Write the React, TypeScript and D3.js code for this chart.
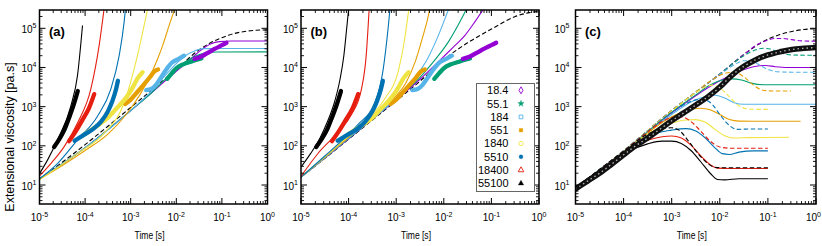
import React from "react";
import * as d3 from "d3";

// All series points are [log10(time / s), log10(extensional viscosity / Pa.s)]
type P = [number, number];

const PURPLE = "#9400D3";
const GREEN = "#009E73";
const LBLUE = "#56B4E9";
const ORANGE = "#E69F00";
const YELLOW = "#F0E442";
const BLUE = "#0072B2";
const RED = "#E51E10";
const BLACK = "#000000";

const xTickExps = [-5, -4, -3, -2, -1, 0];
const yTickExps = [1, 2, 3, 4, 5];
const legendLabels = ["18.4", "55.1", "184", "551", "1840", "5510", "18400", "55100"];
const legendColors = [PURPLE, GREEN, LBLUE, ORANGE, YELLOW, BLUE, RED, BLACK];
const legendShapes = ["diamondOpen", "starFilled", "squareOpen", "squareFilled", "circleOpen", "circleFilled", "triangleOpen", "triangleFilled"];

// ---- experimental data (panels a and b) ----
const expBlack: P[] = [[-4.68, 1.97], [-4.55, 2.2], [-4.45, 2.42], [-4.35, 2.72], [-4.25, 3.05], [-4.16, 3.4]];
const expRed: P[] = [[-4.35, 2.12], [-4.2, 2.38], [-4.05, 2.68], [-3.92, 2.95], [-3.8, 3.32]];
const expBlue: P[] = [[-4.23, 2.13], [-4.0, 2.3], [-3.8, 2.45], [-3.65, 2.62], [-3.5, 2.88], [-3.4, 3.15], [-3.32, 3.45], [-3.28, 3.66]];
const expYellow: P[] = [[-4.0, 2.3], [-3.75, 2.5], [-3.5, 2.72], [-3.3, 2.97], [-3.1, 3.23], [-2.95, 3.5], [-2.85, 3.72], [-2.74, 3.88]];
const expOrange: P[] = [[-3.12, 3.07], [-3.0, 3.18], [-2.85, 3.38], [-2.7, 3.58], [-2.58, 3.75], [-2.48, 3.9], [-2.4, 3.95]];
const expLBlue: P[] = [[-2.66, 3.42], [-2.55, 3.45], [-2.45, 3.55], [-2.35, 3.72], [-2.22, 3.95], [-2.1, 4.12], [-1.95, 4.22], [-1.83, 4.3]];
const expGreen: P[] = [[-2.2, 3.71], [-2.1, 3.85], [-2.0, 3.98], [-1.85, 4.08], [-1.7, 4.14], [-1.55, 4.2], [-1.45, 4.23]];
const expPurple: P[] = [[-1.6, 4.22], [-1.45, 4.28], [-1.3, 4.38], [-1.15, 4.48], [-1.0, 4.57], [-0.9, 4.63]];

// ---- panel (a) model curves ----
const aBlack: P[] = [[-5, 1.29], [-4.825, 1.635], [-4.605, 2.153], [-4.313, 3.016], [-4.167, 3.793], [-4.057, 5.07]];
const aRed: P[] = [[-5, 1.23], [-4.752, 1.547], [-4.458, 1.98], [-4.167, 2.583], [-3.875, 3.448], [-3.691, 4.57], [-3.581, 5.52]];
const aBlue: P[] = [[-5, 1.16], [-4.605, 1.547], [-4.167, 2.153], [-3.728, 2.757], [-3.436, 3.448], [-3.252, 4.311], [-3.143, 5.17], [-3.107, 5.6]];
const aYellow: P[] = [[-5, 1.13], [-4.167, 1.806], [-3.581, 2.324], [-3.143, 3.101], [-2.851, 4.311], [-2.632, 5.48]];
const aOrange: P[] = [[-5, 1.15], [-4.5, 1.5], [-4, 1.88], [-3.5, 2.3], [-3.1, 2.8], [-2.8, 3.3], [-2.588, 3.749], [-2.4, 4.25], [-2.296, 4.57], [-2.15, 5.1], [-2.0, 5.6]];
const aLBlue: P[] = [[-5, 1.15], [-4, 1.95], [-3, 2.9], [-2.5, 3.45], [-2.2, 3.85], [-2, 4.1], [-1.8, 4.3], [-1.6, 4.42], [-1.4, 4.48], [-1.0, 4.485], [0, 4.485]];
const aGreen: P[] = [[-5, 1.15], [-4, 1.95], [-3, 2.9], [-2.5, 3.4], [-2.2, 3.75], [-2, 3.97], [-1.8, 4.15], [-1.6, 4.28], [-1.4, 4.36], [-1.1, 4.395], [0, 4.397]];
const aPurple: P[] = [[-5, 1.15], [-4, 1.95], [-3, 2.9], [-2.5, 3.4], [-2, 3.9], [-1.7, 4.2], [-1.45, 4.45], [-1.25, 4.6], [-1.05, 4.66], [-0.8, 4.674], [0, 4.674]];
const aLVE: P[] = [[-5, 1.15], [-4.5, 1.58], [-4, 2.03], [-3.5, 2.5], [-3, 2.98], [-2.5, 3.46], [-2, 3.95], [-1.5, 4.45], [-1.25, 4.63], [-1, 4.76], [-0.75, 4.86], [-0.5, 4.92], [-0.25, 4.95], [0, 4.96]];

// ---- panel (b) model curves ----
const bBlack: P[] = [[-5, 1.46], [-4.8, 1.8], [-4.6, 2.2], [-4.45, 2.6], [-4.3, 3.1], [-4.18, 3.7], [-4.1, 4.3], [-4.04, 5.0], [-3.99, 5.6]];
const bRed: P[] = [[-5, 1.22], [-4.64, 1.81], [-4.22, 2.35], [-3.94, 2.8], [-3.73, 3.45], [-3.63, 4.31], [-3.57, 5.45]];
const bBlue: P[] = [[-5, 1.2], [-4.5, 1.74], [-4, 2.3], [-3.8, 2.55], [-3.45, 3.1], [-3.28, 3.9], [-3.17, 5.0], [-3.13, 5.5]];
const bYellow: P[] = [[-5, 1.2], [-4.5, 1.72], [-4, 2.25], [-3.66, 2.62], [-3.24, 3.2], [-2.96, 3.89], [-2.82, 4.74], [-2.75, 5.35], [-2.72, 5.6]];
const bOrange: P[] = [[-5, 1.2], [-4, 2.22], [-3.5, 2.74], [-3.0, 3.28], [-2.8, 3.6], [-2.6, 4.15], [-2.45, 4.75], [-2.32, 5.35], [-2.28, 5.6]];
const bLBlue: P[] = [[-5, 1.2], [-4, 2.2], [-3, 3.22], [-2.6, 3.75], [-2.33, 4.25], [-2.12, 4.8], [-1.9, 5.48], [-1.86, 5.6]];
const bGreen: P[] = [[-5, 1.2], [-4, 2.19], [-3, 3.2], [-2.5, 3.75], [-2.25, 4.1], [-1.9, 4.66], [-1.62, 5.26], [-1.48, 5.6]];
const bPurple: P[] = [[-5, 1.2], [-4, 2.18], [-3, 3.18], [-2.5, 3.7], [-2, 4.28], [-1.8, 4.52], [-1.555, 4.82], [-1.345, 5.17], [-1.13, 5.56]];
const bLVE: P[] = [[-5, 1.2], [-4.5, 1.68], [-4, 2.17], [-3.5, 2.66], [-3, 3.15], [-2.5, 3.65], [-2, 4.2], [-1.5, 4.63], [-1, 4.98], [-0.5, 5.3], [-0.2, 5.4], [0, 5.43]];

// ---- panel (c) model curves (solid and dashed) and data ----
const cBlackSolid: P[] = [[-5, 0.93], [-4.5, 1.37], [-4, 1.8], [-3.5, 2.05], [-3.2, 2.12], [-3, 2.12], [-2.8, 2.06], [-2.6, 1.88], [-2.4, 1.6], [-2.2, 1.3], [-2.05, 1.14], [-1.9, 1.13], [-1.6, 1.16], [-1, 1.16]];
const cRedSolid: P[] = [[-5, 0.93], [-4.5, 1.37], [-4, 1.82], [-3.5, 2.14], [-3.2, 2.23], [-3, 2.25], [-2.8, 2.2], [-2.6, 2.02], [-2.4, 1.75], [-2.2, 1.52], [-2.05, 1.43], [-1.8, 1.42], [-1, 1.42]];
const cBlackDash: P[] = [[-5, 0.93], [-4, 1.86], [-3.5, 2.3], [-3.2, 2.44], [-3, 2.46], [-2.85, 2.4], [-2.65, 2.12], [-2.45, 1.8], [-2.25, 1.55], [-2.1, 1.45], [-1.9, 1.44], [-1, 1.44]];
const cBlueSolid: P[] = [[-5, 0.93], [-4, 1.84], [-3.5, 2.25], [-3, 2.4], [-2.7, 2.44], [-2.5, 2.38], [-2.3, 2.2], [-2.1, 1.95], [-1.95, 1.8], [-1.8, 1.78], [-1.6, 1.84], [-1.3, 1.87], [-1, 1.87]];
const cRedDash: P[] = [[-5, 0.93], [-4, 1.86], [-3.5, 2.35], [-3.2, 2.62], [-3, 2.72], [-2.8, 2.74], [-2.6, 2.62], [-2.4, 2.38], [-2.2, 2.12], [-2.0, 1.97], [-1.8, 1.94], [-1, 1.94]];
const cYellowSolid: P[] = [[-5, 0.93], [-4, 1.85], [-3.5, 2.3], [-3, 2.58], [-2.7, 2.66], [-2.5, 2.67], [-2.3, 2.6], [-2.1, 2.42], [-1.9, 2.26], [-1.7, 2.2], [-1.4, 2.21], [-0.56, 2.22]];
const cBlueDash: P[] = [[-5, 0.93], [-4, 1.87], [-3.5, 2.37], [-3, 2.85], [-2.7, 3.08], [-2.45, 3.18], [-2.3, 3.17], [-2.15, 3.05], [-2.0, 2.8], [-1.8, 2.52], [-1.65, 2.42], [-1.4, 2.43], [-1, 2.43]];
const cOrangeSolid: P[] = [[-5, 0.93], [-4, 1.85], [-3.5, 2.33], [-3, 2.74], [-2.7, 2.9], [-2.4, 2.96], [-2.2, 2.92], [-2.0, 2.8], [-1.8, 2.67], [-1.6, 2.63], [-1.3, 2.627], [-0.32, 2.627]];
const cYellowDash: P[] = [[-5, 0.93], [-4, 1.87], [-3.5, 2.38], [-3, 2.88], [-2.6, 3.27], [-2.3, 3.5], [-2.15, 3.55], [-2.0, 3.48], [-1.8, 3.25], [-1.6, 3.02], [-1.4, 2.94], [-1.2, 2.93], [-1, 2.93]];
const cLBlueSolid: P[] = [[-5, 0.93], [-4, 1.85], [-3.5, 2.34], [-3, 2.8], [-2.6, 3.12], [-2.3, 3.26], [-2.1, 3.29], [-1.9, 3.22], [-1.7, 3.1], [-1.5, 3.06], [-1.2, 3.06], [0, 3.06]];
const cOrangeDash: P[] = [[-5, 0.93], [-4, 1.87], [-3, 2.9], [-2.5, 3.37], [-2.2, 3.65], [-2.0, 3.8], [-1.8, 3.87], [-1.65, 3.86], [-1.5, 3.76], [-1.3, 3.55], [-1.1, 3.42], [-0.9, 3.4], [-0.52, 3.4]];
const cGreenSolid: P[] = [[-5, 0.93], [-4, 1.86], [-3, 2.86], [-2.5, 3.3], [-2.2, 3.55], [-1.95, 3.68], [-1.75, 3.71], [-1.55, 3.68], [-1.35, 3.6], [-1.1, 3.56], [-0.5, 3.56], [0, 3.56]];
const cLBlueDash: P[] = [[-5, 0.93], [-4, 1.87], [-3, 2.9], [-2.5, 3.37], [-2, 3.82], [-1.7, 4.07], [-1.5, 4.17], [-1.35, 4.17], [-1.2, 4.08], [-1.0, 3.95], [-0.8, 3.89], [-0.5, 3.88], [0, 3.88]];
const cPurpleSolid: P[] = [[-5, 0.93], [-4, 1.85], [-3, 2.84], [-2.5, 3.28], [-2, 3.66], [-1.6, 3.9], [-1.3, 4.02], [-1.05, 4.05], [-0.85, 4.02], [-0.6, 4.0], [0, 4.0]];
const cGreenDash: P[] = [[-5, 0.93], [-4, 1.87], [-3, 2.9], [-2, 3.83], [-1.5, 4.3], [-1.25, 4.45], [-1.1, 4.49], [-0.95, 4.47], [-0.75, 4.38], [-0.5, 4.32], [0, 4.31]];
const cPurpleDash: P[] = [[-5, 0.93], [-4, 1.87], [-3, 2.9], [-2, 3.83], [-1.5, 4.33], [-1.2, 4.6], [-1.0, 4.7], [-0.85, 4.74], [-0.7, 4.74], [-0.5, 4.71], [-0.3, 4.68], [0, 4.67]];
const cLVE: P[] = [[-5, 0.93], [-4.5, 1.38], [-4, 1.87], [-3.5, 2.38], [-3, 2.9], [-2.5, 3.37], [-2, 3.83], [-1.5, 4.33], [-1.25, 4.55], [-1, 4.72], [-0.75, 4.84], [-0.5, 4.92], [-0.25, 4.97], [0, 4.99]];
const cData: P[] = [[-5, 0.9], [-4.75, 1.1], [-4.5, 1.3], [-4.25, 1.53], [-4, 1.77], [-3.75, 2.0], [-3.5, 2.2], [-3.25, 2.42], [-3, 2.64], [-2.75, 2.84], [-2.5, 3.04], [-2.25, 3.25], [-2, 3.5], [-1.75, 3.8], [-1.5, 4.03], [-1.25, 4.2], [-1, 4.32], [-0.75, 4.4], [-0.5, 4.46], [-0.25, 4.49], [0, 4.51]];

const FONT = "'Liberation Sans', Arial, Helvetica, sans-serif";

interface Curve { pts: P[]; color: string; dashed?: boolean; }
interface Band { pts: P[]; color: string; }

const TOP = 10;
const BOTTOM = 204;
const SVG_W = 822;

function Panel(props: {
  id: string; x0: number; x1: number; letter: string; labelGap: number;
  curves: Curve[]; bands: Band[]; diamondBand?: P[]; children?: React.ReactNode;
}) {
  const { id, x0, x1, letter, labelGap, curves, bands, diamondBand } = props;
  const xs = d3.scaleLog().domain([1e-5, 1]).range([x0, x1]);
  const ys = d3.scaleLog().domain([10, 1e5]).range([185, 28.3]);
  const gen = d3.line<P>()
    .x((d) => xs(Math.pow(10, d[0])))
    .y((d) => ys(Math.pow(10, d[1])))
    .curve(d3.curveMonotoneX);

  const xMajor = xTickExps.map((e) => Math.pow(10, e));
  const xMinor: number[] = [];
  for (let e = -5; e < 0; e++) for (let k = 2; k <= 9; k++) xMinor.push(k * Math.pow(10, e));
  const yMajor = yTickExps.map((e) => Math.pow(10, e));
  const yMinor: number[] = [];
  for (let e = 0; e <= 5; e++) for (let k = 2; k <= 9; k++) {
    const v = k * Math.pow(10, e);
    const py = ys(v);
    if (py > TOP + 0.5 && py < BOTTOM - 0.5) yMinor.push(v);
  }
  const tk = "#000";
  return (
    <g>
      <defs>
        <clipPath id={`clip-${id}`}>
          <rect x={x0} y={TOP} width={x1 - x0} height={BOTTOM - TOP} />
        </clipPath>
      </defs>
      <g clipPath={`url(#clip-${id})`}>
        {curves.map((c, i) => (
          <path key={`c${i}`} d={gen(c.pts) || ""} fill="none" stroke={c.color}
            strokeWidth={1.1} strokeDasharray={c.dashed ? "4.5,2.5" : undefined} />
        ))}
        {bands.map((b, i) => (
          <path key={`b${i}`} d={gen(b.pts) || ""} fill="none" stroke={b.color}
            strokeWidth={4.3} strokeLinecap="round" strokeLinejoin="round" />
        ))}
        {diamondBand && (
          <g>
            <path d={gen(diamondBand) || ""} fill="none" stroke="#111" strokeWidth={5.5} strokeLinecap="round" />
            <path d={gen(diamondBand) || ""} fill="none" stroke="#fff" strokeWidth={1.3} strokeDasharray="1.5,3" opacity={0.7} />
          </g>
        )}
      </g>
      {/* ticks */}
      {xMajor.map((v, i) => (
        <g key={`xM${i}`} stroke={tk} strokeWidth={1}>
          <line x1={xs(v)} x2={xs(v)} y1={BOTTOM} y2={BOTTOM - 6} />
          <line x1={xs(v)} x2={xs(v)} y1={TOP} y2={TOP + 6} />
        </g>
      ))}
      {xMinor.map((v, i) => (
        <g key={`xm${i}`} stroke={tk} strokeWidth={0.9}>
          <line x1={xs(v)} x2={xs(v)} y1={BOTTOM} y2={BOTTOM - 3} />
          <line x1={xs(v)} x2={xs(v)} y1={TOP} y2={TOP + 3} />
        </g>
      ))}
      {yMajor.map((v, i) => (
        <g key={`yM${i}`} stroke={tk} strokeWidth={1}>
          <line x1={x0} x2={x0 + 6} y1={ys(v)} y2={ys(v)} />
          <line x1={x1} x2={x1 - 6} y1={ys(v)} y2={ys(v)} />
        </g>
      ))}
      {yMinor.map((v, i) => (
        <g key={`ym${i}`} stroke={tk} strokeWidth={0.9}>
          <line x1={x0} x2={x0 + 3} y1={ys(v)} y2={ys(v)} />
          <line x1={x1} x2={x1 - 3} y1={ys(v)} y2={ys(v)} />
        </g>
      ))}
      <rect x={x0} y={TOP} width={x1 - x0} height={BOTTOM - TOP} fill="none" stroke="#000" strokeWidth={1.5} />
      {/* tick labels */}
      {xTickExps.map((e, i) => {
        const px = xs(Math.pow(10, e));
        // keep the label inside the picture when the tick sits close to its right edge
        const nearEdge = px + 9 > SVG_W;
        return (
          <text key={`xl${i}`} x={nearEdge ? SVG_W - 1 : px} y={221} textAnchor={nearEdge ? "end" : "middle"}
            fontSize={10} fontFamily={FONT} fill="#000">
            10<tspan dy={-4.5} fontSize={7}>{String(e)}</tspan>
          </text>
        );
      })}
      {yTickExps.map((e, i) => (
        <text key={`yl${i}`} x={x0 - labelGap} y={ys(Math.pow(10, e)) + 4.5} textAnchor="end" fontSize={10} fontFamily={FONT} fill="#000">
          10<tspan dy={-4.5} fontSize={7}>{String(e)}</tspan>
        </text>
      ))}
      <text x={(x0 + x1) / 2 - 4} y={239} textAnchor="middle" fontSize={10} fontFamily={FONT}
        textLength={30} lengthAdjust="spacingAndGlyphs">Time [s]</text>
      <text x={x0 + 9.5} y={36} fontSize={13} fontWeight="bold" fontFamily={FONT}>{letter}</text>
      {props.children}
    </g>
  );
}

function LegendMarker({ shape, color, x, y }: { shape: string; color: string; x: number; y: number }) {
  const map: Record<string, d3.SymbolType> = {
    diamond: d3.symbolDiamond, star: d3.symbolStar, square: d3.symbolSquare,
    circle: d3.symbolCircle, triangle: d3.symbolTriangle,
  };
  const open = shape.endsWith("Open");
  const base = shape.replace("Open", "").replace("Filled", "");
  const d = d3.symbol().type(map[base]).size(open ? 14 : 12)() || "";
  return (
    <path d={d} transform={`translate(${x},${y})`} fill={open ? "none" : color}
      stroke={color} strokeWidth={open ? 0.9 : 0.4} />
  );
}

export default function App() {
  const aCurves: Curve[] = [
    { pts: aLVE, color: BLACK, dashed: true },
    { pts: aPurple, color: PURPLE }, { pts: aGreen, color: GREEN }, { pts: aLBlue, color: LBLUE },
    { pts: aOrange, color: ORANGE }, { pts: aYellow, color: YELLOW }, { pts: aBlue, color: BLUE },
    { pts: aRed, color: RED }, { pts: aBlack, color: BLACK },
  ];
  const bCurves: Curve[] = [
    { pts: bLVE, color: BLACK, dashed: true },
    { pts: bPurple, color: PURPLE }, { pts: bGreen, color: GREEN }, { pts: bLBlue, color: LBLUE },
    { pts: bOrange, color: ORANGE }, { pts: bYellow, color: YELLOW }, { pts: bBlue, color: BLUE },
    { pts: bRed, color: RED }, { pts: bBlack, color: BLACK },
  ];
  const expBands: Band[] = [
    { pts: expLBlue, color: LBLUE }, { pts: expGreen, color: GREEN }, { pts: expPurple, color: PURPLE },
    { pts: expOrange, color: ORANGE }, { pts: expYellow, color: YELLOW }, { pts: expBlue, color: BLUE },
    { pts: expRed, color: RED }, { pts: expBlack, color: BLACK },
  ];
  const cCurves: Curve[] = [
    { pts: cLVE, color: BLACK, dashed: true },
    { pts: cPurpleDash, color: PURPLE, dashed: true }, { pts: cPurpleSolid, color: PURPLE },
    { pts: cGreenDash, color: GREEN, dashed: true }, { pts: cGreenSolid, color: GREEN },
    { pts: cLBlueDash, color: LBLUE, dashed: true }, { pts: cLBlueSolid, color: LBLUE },
    { pts: cOrangeDash, color: ORANGE, dashed: true }, { pts: cOrangeSolid, color: ORANGE },
    { pts: cYellowDash, color: YELLOW, dashed: true }, { pts: cYellowSolid, color: YELLOW },
    { pts: cBlueDash, color: BLUE, dashed: true }, { pts: cBlueSolid, color: BLUE },
    { pts: cRedDash, color: RED, dashed: true }, { pts: cRedSolid, color: RED },
    { pts: cBlackDash, color: BLACK, dashed: true }, { pts: cBlackSolid, color: BLACK },
  ];

  const legX0 = 476.5, legY0 = 83.5, legW = 58, legH = 108;
  return (
    <svg width={SVG_W} height={246} style={{ position: "absolute", left: 0, top: 0, background: "#fff" }}
      fontFamily={FONT}>
      <rect x={0} y={0} width={SVG_W} height={246} fill="#fff" />
      <Panel id="a" x0={39.5} x1={267.5} letter="(a)" labelGap={3} curves={aCurves} bands={expBands} />
      <Panel id="b" x0={301} x1={539} letter="(b)" labelGap={3} curves={bCurves} bands={expBands}>
        <g>
          <rect x={legX0} y={legY0} width={legW} height={legH} fill="#fff" stroke="#666" strokeWidth={1} />
          {legendLabels.map((lab, i) => (
            <g key={lab}>
              <text x={508.5} y={legY0 + 6.8 + i * 13.3} dy="0.36em" textAnchor="end" fontSize={11} fontFamily={FONT}>{lab}</text>
              <LegendMarker shape={legendShapes[i]} color={legendColors[i]} x={521} y={legY0 + 6.8 + i * 13.3} />
            </g>
          ))}
        </g>
      </Panel>
      <Panel id="c" x0={575.5} x1={816} letter="(c)" labelGap={6} curves={cCurves} bands={[]} diamondBand={cData} />
      <text transform="translate(14,137) rotate(-90)" textAnchor="middle" fontSize={12.5} fontFamily={FONT}>
        Extensional viscosity [pa.s]
      </text>
    </svg>
  );
}
